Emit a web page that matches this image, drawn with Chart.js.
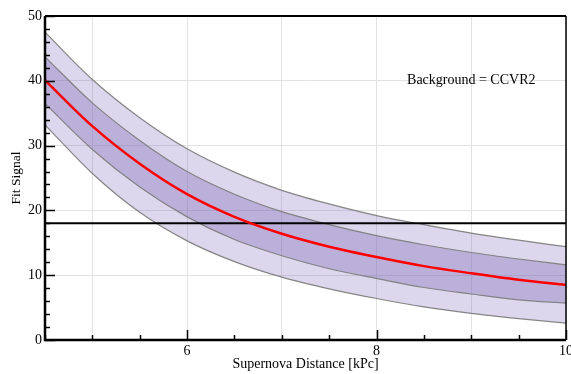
<!DOCTYPE html>
<html>
<head>
<meta charset="utf-8">
<script src="https://cdn.jsdelivr.net/npm/chart.js@4/dist/chart.umd.min.js"></script>
<style>
  html, body { margin: 0; padding: 0; background: #fff; }
  #wrap { width: 571px; height: 374px; }
</style>
</head>
<body>
<div id="wrap"><canvas id="fitChart"></canvas></div>
<script>
// supernova distance [kPc]
var distance = [4.5, 5, 5.5, 6, 6.5, 7, 7.5, 8, 8.5, 9, 9.5, 10];
// fit signal, central curve
var signal = [40.1, 33.0, 27.2, 22.5, 19.0, 16.4, 14.4, 12.8, 11.4, 10.3, 9.3, 8.5];
// inner band (1 sigma)
var innerHigh = [43.7, 36.6, 30.8, 26.0, 22.5, 19.8, 17.8, 16.1, 14.7, 13.5, 12.5, 11.6];
var innerLow = [36.5, 29.4, 23.6, 19.0, 15.5, 13.0, 11.0, 9.5, 8.1, 7.1, 6.2, 5.7];
// outer band (2 sigma)
var outerHigh = [47.5, 40.2, 34.3, 29.5, 25.9, 23.1, 21.0, 19.2, 17.8, 16.5, 15.4, 14.4];
var outerLow = [33.2, 25.7, 19.7, 15.3, 12.1, 9.7, 7.9, 6.4, 5.1, 4.1, 3.3, 2.6];
// threshold line
var threshold = 18;
var xTickLabels = [6, 8, 10];
var yTickLabels = [0, 10, 20, 30, 40, 50];
var noteText = "Background = CCVR2";

function pts(ys) {
    return distance.map(function(x, i) { return {x: x, y: ys[i]}; });
}

var serif = "'Liberation Serif', 'Times New Roman', serif";

var frameTicks = {
    id: 'frameTicks',
    afterDatasetsDraw: function(chart) {
        var ctx = chart.ctx, a = chart.chartArea;
        var xs = chart.scales.x, ys = chart.scales.y;
        ctx.save();
        ctx.strokeStyle = '#000';
        // note text
        ctx.fillStyle = '#000';
        ctx.font = "14px " + serif;
        ctx.textAlign = 'center';
        ctx.textBaseline = 'middle';
        ctx.fillText(noteText, xs.getPixelForValue(9), ys.getPixelForValue(40));
        // y ticks, inside
        ctx.lineWidth = 1.5;
        for (var v = 0; v <= 50; v += 2) {
            var py = Math.round(ys.getPixelForValue(v)) + 0.5;
            var len = (v % 10 === 0) ? 10 : 5;
            ctx.beginPath();
            ctx.moveTo(a.left, py);
            ctx.lineTo(a.left + len, py);
            ctx.stroke();
        }
        // x ticks, inside
        for (var t = 4.5; t <= 10; t += 0.5) {
            var px = Math.round(xs.getPixelForValue(t)) + 0.5;
            var l2 = (xTickLabels.indexOf(t) >= 0) ? 10 : 5;
            ctx.beginPath();
            ctx.moveTo(px, a.bottom);
            ctx.lineTo(px, a.bottom - l2);
            ctx.stroke();
        }
        // frame
        ctx.lineWidth = 2;
        ctx.beginPath();
        ctx.moveTo(a.left, a.top);
        ctx.lineTo(a.right, a.top);
        ctx.stroke();
        ctx.lineWidth = 1.5;
        ctx.beginPath();
        ctx.moveTo(a.right, a.top);
        ctx.lineTo(a.right, a.bottom);
        ctx.stroke();
        ctx.lineWidth = 2.5;
        ctx.beginPath();
        ctx.moveTo(a.left, a.top);
        ctx.lineTo(a.left, a.bottom);
        ctx.lineTo(a.right, a.bottom);
        ctx.stroke();
        ctx.restore();
    }
};

var bandLine = 'rgba(128,128,128,0.95)';

new Chart(document.getElementById('fitChart'), {
    type: 'line',
    data: {
        datasets: [{
            label: 'outer low',
            data: pts(outerLow),
            borderColor: bandLine,
            borderWidth: 1.2,
            fill: false,
            order: 4
        }, {
            label: 'outer high',
            data: pts(outerHigh),
            borderColor: bandLine,
            borderWidth: 1.2,
            backgroundColor: 'rgba(120,100,180,0.26)',
            fill: 0,
            order: 5
        }, {
            label: 'inner low',
            data: pts(innerLow),
            borderColor: bandLine,
            borderWidth: 1.2,
            fill: false,
            order: 2
        }, {
            label: 'inner high',
            data: pts(innerHigh),
            borderColor: bandLine,
            borderWidth: 1.2,
            backgroundColor: 'rgba(120,100,180,0.34)',
            fill: 2,
            order: 3
        }, {
            label: 'threshold',
            data: [{x: distance[0], y: threshold}, {x: distance[distance.length - 1], y: threshold}],
            borderColor: '#000',
            borderWidth: 2,
            fill: false,
            order: 1
        }, {
            label: 'signal',
            data: pts(signal),
            borderColor: '#ff0000',
            borderWidth: 2.5,
            fill: false,
            order: 0
        }]
    },
    options: {
        responsive: true,
        maintainAspectRatio: false,
        animation: false,
        layout: { padding: { top: 16, right: 5, left: 0, bottom: 0 } },
        elements: {
            point: { radius: 0 },
            line: { cubicInterpolationMode: 'monotone' }
        },
        plugins: {
            legend: { display: false },
            tooltip: { enabled: false }
        },
        scales: {
            x: {
                type: 'linear',
                min: 4.5,
                max: 10,
                afterFit: function(s) { s.height = 34; s.paddingLeft = 0; s.paddingRight = 0; },
                border: { display: false },
                grid: { color: '#e2e2e2', lineWidth: 1, drawTicks: false },
                ticks: {
                    stepSize: 1,
                    padding: 3,
                    autoSkip: false,
                    maxRotation: 0,
                    color: '#000',
                    font: { family: serif, size: 14 },
                    callback: function(v) { return xTickLabels.indexOf(v) >= 0 ? String(v) : ''; }
                },
                title: {
                    display: true,
                    text: 'Supernova Distance [kPc]',
                    color: '#000',
                    font: { family: serif, size: 14 },
                    padding: { top: 0, bottom: 1 }
                }
            },
            y: {
                min: 0,
                max: 50,
                afterFit: function(s) { s.width = 45; s.paddingTop = 0; s.paddingBottom = 0; },
                border: { display: false },
                grid: { color: '#e2e2e2', lineWidth: 1, drawTicks: false },
                ticks: {
                    stepSize: 10,
                    padding: 3,
                    color: '#000',
                    font: { family: serif, size: 14 },
                    callback: function(v) { return yTickLabels.indexOf(v) >= 0 ? String(v) : ''; }
                },
                title: {
                    display: true,
                    text: 'Fit Signal',
                    color: '#000',
                    font: { family: serif, size: 13.5 },
                    padding: { top: 8, bottom: 0 }
                }
            }
        }
    },
    plugins: [frameTicks]
});
</script>
</body>
</html>
